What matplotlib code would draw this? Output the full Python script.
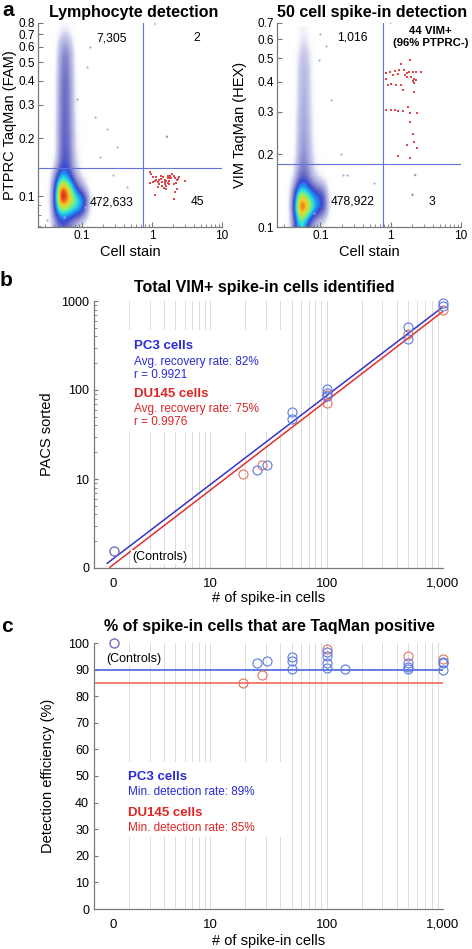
from __future__ import annotations

import matplotlib

matplotlib.use("Agg")
import matplotlib.pyplot as plt
import numpy as np
from matplotlib.colors import LinearSegmentedColormap
from matplotlib.patches import Rectangle
from matplotlib.ticker import NullFormatter

W_PX, H_PX = 472, 949

# ---------------------------------------------------------------- panel a
FLOW_XLIM = (0.0238, 10.0)
FLOW_XTICKS = [0.1, 1, 10]
FLOW_XTICK_LABELS = ["0.1", "1", "10"]
FLOW_XMINOR = [0.03, 0.04, 0.05, 0.06, 0.07, 0.08, 0.09,
               0.2, 0.3, 0.4, 0.5, 0.6, 0.7, 0.8, 0.9,
               2, 3, 4, 5, 6, 7, 8, 9]

LEFT_YLIM = (0.069, 0.80)
LEFT_YTICKS = [0.1, 0.2, 0.3, 0.4, 0.5, 0.6, 0.7, 0.8]
LEFT_YTICK_LABELS = ["0.1", "0.2", "0.3", "0.4", "0.5", "0.6", "0.7", "0.8"]
LEFT_YMINOR = [0.07, 0.08, 0.09]
RIGHT_YLIM = (0.1, 0.70)
RIGHT_YTICKS = [0.1, 0.2, 0.3, 0.4, 0.5, 0.6, 0.7]
RIGHT_YTICK_LABELS = ["0.1", "0.2", "0.3", "0.4", "0.5", "0.6", "0.7"]

LEFT_GATE = (0.74, 0.14)
RIGHT_GATE = (0.776, 0.182)

# density of the main population, levels 0-9 on a grid in log10 units
GRID_LX = [-1.52, -1.45, -1.38, -1.31, -1.24, -1.17, -1.10, -1.03, -0.96, -0.89]
LEFT_GRID_LY = [-0.12, -0.18, -0.24, -0.30, -0.36, -0.42, -0.48, -0.54, -0.60,
                -0.66, -0.72, -0.78, -0.84, -0.90, -0.96, -1.02, -1.08, -1.14]
LEFT_GRID = [
    [0, 0, 0, 0.3, 0.5, 0.2, 0, 0, 0, 0],
    [0, 0, 0.1, 1.0, 1.6, 0.9, 0.1, 0, 0, 0],
    [0, 0, 0.2, 1.9, 2.7, 1.7, 0.3, 0, 0, 0],
    [0, 0, 0.2, 2.2, 3.1, 2.0, 0.3, 0, 0, 0],
    [0, 0, 0.3, 2.4, 3.3, 2.1, 0.4, 0, 0, 0],
    [0, 0, 0.3, 2.5, 3.4, 2.2, 0.4, 0.1, 0, 0],
    [0, 0, 0.3, 2.6, 3.5, 2.3, 0.4, 0.1, 0, 0],
    [0, 0, 0.3, 2.7, 3.5, 2.3, 0.5, 0.1, 0, 0],
    [0, 0, 0.4, 2.7, 3.6, 2.4, 0.5, 0.1, 0, 0],
    [0, 0, 0.4, 2.8, 3.6, 2.5, 0.6, 0.2, 0, 0],
    [0, 0, 0.4, 2.8, 3.7, 2.6, 0.7, 0.2, 0.1, 0],
    [0, 0, 0.5, 2.9, 3.8, 2.7, 0.8, 0.3, 0.1, 0],
    [0, 0.1, 0.9, 3.3, 4.0, 3.0, 1.1, 0.4, 0.1, 0],
    [0, 0.4, 2.8, 5.5, 5.5, 4.0, 2.0, 0.8, 0.3, 0],
    [0, 0.6, 4.8, 9.0, 8.8, 7.2, 4.5, 2.8, 1.2, 0.1],
    [0, 0.8, 5.2, 9.5, 9.3, 8.2, 7.0, 6.0, 4.5, 0.5],
    [0, 0.6, 4.2, 6.5, 6.5, 6.0, 5.3, 4.8, 2.8, 0.3],
    [0, 0.4, 2.0, 3.5, 3.4, 2.4, 1.6, 0.8, 0.2, 0],
]
RIGHT_GRID_LY = [-0.20, -0.26, -0.32, -0.38, -0.44, -0.50, -0.56,
                 -0.62, -0.68, -0.74, -0.80, -0.86, -0.92, -0.98]
RIGHT_GRID = [
    [0, 0, 0, 0.4, 0.6, 0.2, 0, 0, 0, 0],
    [0, 0, 0, 0.8, 1.2, 0.6, 0.1, 0, 0, 0],
    [0, 0, 0.1, 1.1, 1.7, 0.9, 0.1, 0, 0, 0],
    [0, 0, 0.1, 1.2, 1.8, 1.0, 0.1, 0, 0, 0],
    [0, 0, 0.1, 1.3, 1.9, 1.0, 0.2, 0, 0, 0],
    [0, 0, 0.1, 1.4, 2.0, 1.1, 0.2, 0, 0, 0],
    [0, 0, 0.2, 1.6, 2.2, 1.2, 0.3, 0.1, 0, 0],
    [0, 0, 0.2, 1.7, 2.3, 1.3, 0.3, 0.1, 0, 0],
    [0, 0, 0.3, 1.9, 2.5, 1.5, 0.4, 0.1, 0, 0],
    [0, 0, 0.5, 2.3, 2.9, 1.8, 0.6, 0.2, 0.1, 0],
    [0, 0.1, 1.0, 3.0, 3.5, 2.4, 1.1, 0.5, 0.2, 0],
    [0, 0.4, 3.5, 7.0, 6.8, 5.5, 4.5, 4.0, 3.0, 0.2],
    [0, 0.5, 5.0, 9.6, 9.6, 8.5, 6.5, 5.2, 4.0, 0.4],
    [0, 0.3, 3.0, 6.0, 5.5, 3.0, 1.5, 0.8, 0.3, 0],
]

# sparse events outside the main population
LEFT_SPARSE_X = [0.228, 0.283, 0.183, 0.316, 0.118, 0.155, 0.112, 0.055, 0.032, 0.085, 0.44, 0.13, 0.21]
LEFT_SPARSE_Y = [0.225, 0.129, 0.160, 0.181, 0.47, 0.259, 0.088, 0.078, 0.075, 0.32, 0.112, 0.60, 0.095]
RIGHT_SPARSE_X = [0.24, 0.58, 0.095, 0.139, 0.193, 0.416, 0.080, 0.10, 0.21, 0.12]
RIGHT_SPARSE_Y = [0.164, 0.152, 0.49, 0.337, 0.20, 0.134, 0.114, 0.63, 0.165, 0.56]
LEFT_ODD_X = [1.11, 1.64]
LEFT_ODD_Y = [0.79, 0.204]
RIGHT_ODD_X = [1.0, 2.23, 2.04]
RIGHT_ODD_Y = [0.70, 0.164, 0.136]

# stained spike-in events
LEFT_SPIKE_X = [0.95, 0.98, 1.04, 1.10, 1.15, 1.21, 1.27, 1.33, 1.39, 1.46, 1.53, 1.60,
                1.68, 1.75, 1.84, 1.90, 1.95, 2.05, 2.16, 2.25, 2.37, 2.95, 1.53, 1.61,
                1.68, 1.76, 0.95, 1.27, 1.39, 2.05, 2.25, 2.16, 1.10, 2.05, 1.50, 1.60,
                1.21, 1.04, 1.33, 1.78, 2.22, 2.45, 1.15, 1.68, 1.52]
LEFT_SPIKE_Y = [0.133, 0.130, 0.126, 0.120, 0.122, 0.119, 0.121, 0.123, 0.119, 0.126, 0.122, 0.120,
                0.127, 0.124, 0.128, 0.125, 0.131, 0.127, 0.124, 0.121, 0.123, 0.120, 0.115, 0.113,
                0.117, 0.120, 0.117, 0.115, 0.113, 0.115, 0.109, 0.105, 0.101, 0.097, 0.110, 0.109,
                0.112, 0.118, 0.128, 0.116, 0.117, 0.126, 0.126, 0.124, 0.119]
RIGHT_SPIKE_X = [1.89, 1.39, 0.97, 1.14, 1.32, 1.52, 1.69, 1.83, 2.04, 2.28, 2.68, 0.85,
                 1.25, 1.58, 1.93, 2.15, 2.28, 2.04, 0.87, 1.02, 1.18, 1.39, 2.15, 1.47,
                 2.11, 0.85, 1.00, 1.14, 1.27, 1.47, 1.77, 1.89, 2.35, 1.89, 2.04, 2.15,
                 1.69, 2.35, 1.25, 1.89, 1.50, 0.92, 1.73, 1.06]
RIGHT_SPIKE_Y = [0.493, 0.473, 0.438, 0.441, 0.448, 0.445, 0.434, 0.438, 0.438, 0.438, 0.438, 0.434,
                 0.430, 0.425, 0.420, 0.411, 0.407, 0.401, 0.411, 0.391, 0.388, 0.386, 0.394, 0.370,
                 0.364, 0.306, 0.306, 0.306, 0.301, 0.301, 0.314, 0.296, 0.296, 0.273, 0.242, 0.224,
                 0.219, 0.212, 0.196, 0.193, 0.368, 0.388, 0.418, 0.428]

# ------------------------------------------------------------ panels b, c
SPIKE_XTICKS = [1.45, 10, 100, 1000]
SPIKE_XTICK_LABELS = ["0", "10", "100", "1,000"]
SPIKE_GRID_X = [2, 3, 4, 5, 6, 7, 8, 9, 10, 20, 30, 40, 50, 60, 70, 80, 90,
                100, 200, 300, 400, 500, 600, 700, 800, 900, 1000]

SORTED_YTICKS = [1, 10, 100, 1000]
SORTED_YTICK_LABELS = ["0", "10", "100", "1000"]
SORTED_YMINOR = [2, 3, 4, 5, 6, 7, 8, 9, 20, 30, 40, 50, 60, 70, 80, 90,
                 200, 300, 400, 500, 600, 700, 800, 900]

B_PC3_X = [1.5, 25, 31, 50, 50, 100, 100, 100, 500, 500, 1000, 1000]
B_PC3_Y = [1.55, 12.5, 14.5, 57, 47, 102, 93, 85, 510, 370, 940, 870]
B_DU145_X = [1.5, 19, 28, 100, 100, 500, 1000]
B_DU145_Y = [1.55, 11.5, 14.5, 88, 72, 430, 790]
FIT_X = [1.3, 1000]
PC3_FIT_Y = [1.13, 860]
DU145_FIT_X = [1.37, 1000]
DU145_FIT_Y = [1.02, 765]

EFF_YTICKS = [0, 10, 20, 30, 40, 50, 60, 70, 80, 90, 100]
C_PC3_X = [1.5, 25, 31, 50, 50, 50, 100, 100, 100, 100, 145, 500, 500, 500, 1000, 1000, 1000]
C_PC3_Y = [100, 92.6, 93.3, 94.8, 93.3, 90.1, 96.5, 95.0, 92.5, 90.5, 90.3, 92.6, 91.1, 90.1, 92.9, 92.3, 89.8]
C_DU145_X = [1.5, 19, 28, 100, 500, 1000]
C_DU145_Y = [100, 85.1, 88.0, 97.7, 95.1, 93.8]
PC3_MIN_RATE = 89.7
DU145_MIN_RATE = 85.0

# ---------------------------------------------------------------- styles
SPINE = "#7a7a7a"
GATE = "#6274da"
SPIKE_RED = "#e04646"
SPARSE = "#a9a9d9"
ODD_COLORS = ["#d8d088", "#9aa884", "#8c9a7c"]
GRID_COLOR = "#dcdcdc"
PC3_TEXT = "#2a2ad6"
DU145_TEXT = "#e02424"
PC3_CIRCLE = "#5a78e6"
DU145_CIRCLE = "#e8705e"

DENSITY_CMAP = LinearSegmentedColormap.from_list(
    "flow",
    [
        (0.000, (1.0, 1.0, 1.0, 0.0)),
        (0.111, "#d2d2ee"),
        (0.222, "#a6a6dc"),
        (0.333, "#7474c6"),
        (0.444, "#3848d4"),
        (0.556, "#1c92f0"),
        (0.667, "#2ee0dc"),
        (0.778, "#98f05c"),
        (0.889, "#f8c824"),
        (1.000, "#e42c1c"),
    ],
)


def rect_px(left: float, top: float, right: float, bottom: float) -> list[float]:
    return [left / W_PX, 1 - bottom / H_PX, (right - left) / W_PX, (bottom - top) / H_PX]


def fx(px: float) -> float:
    return px / W_PX


def fy(px: float) -> float:
    return 1 - px / H_PX


def style_spines(ax: plt.Axes) -> None:
    for side in ("top", "right"):
        ax.spines[side].set_visible(False)
    for side in ("left", "bottom"):
        ax.spines[side].set_color(SPINE)
        ax.spines[side].set_linewidth(0.9)


def draw_density(ax: plt.Axes, grid, grid_ly, ylim) -> None:
    axd = ax.inset_axes([0, 0, 1, 1], zorder=0.8)
    hx = (GRID_LX[1] - GRID_LX[0]) / 2
    hy = (grid_ly[0] - grid_ly[1]) / 2
    axd.imshow(
        np.array(grid, dtype=float),
        extent=(GRID_LX[0] - hx, GRID_LX[-1] + hx, grid_ly[-1] - hy, grid_ly[0] + hy),
        origin="upper",
        aspect="auto",
        cmap=DENSITY_CMAP,
        vmin=0,
        vmax=9,
        interpolation="bicubic",
        interpolation_stage="data",
    )
    axd.set_xlim(*np.log10(FLOW_XLIM))
    axd.set_ylim(*np.log10(ylim))
    axd.set_axis_off()


def plot_flow_panel(ax, grid, grid_ly, ylim, yticks, ytick_labels, yminor, gate,
                    sparse_x, sparse_y, odd_x, odd_y, spike_x, spike_y, ylabel, label_x) -> None:
    ax.set_xscale("log")
    ax.set_yscale("log")
    draw_density(ax, grid, grid_ly, ylim)
    ax.scatter(sparse_x, sparse_y, s=2.5, color=SPARSE, linewidths=0, zorder=1.5)
    ax.scatter(odd_x, odd_y, s=3, color=ODD_COLORS[: len(odd_x)], linewidths=0, zorder=1.5)
    ax.axvline(gate[0], color=GATE, lw=0.8, zorder=2)
    ax.axhline(gate[1], color=GATE, lw=0.8, zorder=2)
    ax.scatter(spike_x, spike_y, s=3.2, marker="s", color=SPIKE_RED, linewidths=0, zorder=3)

    ax.set_xlim(*FLOW_XLIM)
    ax.set_ylim(*ylim)
    ax.set_xticks(FLOW_XTICKS)
    ax.set_xticklabels(FLOW_XTICK_LABELS)
    ax.set_xticks(FLOW_XMINOR, minor=True)
    ax.set_yticks(yticks)
    ax.set_yticklabels(ytick_labels)
    ax.set_yticks(yminor, minor=True)
    ax.xaxis.set_minor_formatter(NullFormatter())
    ax.yaxis.set_minor_formatter(NullFormatter())
    style_spines(ax)
    ax.tick_params(which="both", direction="in", colors=SPINE, labelcolor="black", labelsize=8.5)
    ax.tick_params(which="major", length=3.5, pad=2)
    ax.tick_params(which="minor", length=2)
    ax.set_xlabel("Cell stain", fontsize=10.5)
    ax.xaxis.set_label_coords(0.5, -0.088)
    ax.set_ylabel(ylabel, fontsize=10.5)
    ax.yaxis.set_label_coords(label_x, 0.5)


def style_spike_axis(ax: plt.Axes) -> None:
    ax.set_xscale("log")
    ax.set_xlim(1, 1000)
    ax.set_xticks(SPIKE_XTICKS)
    ax.set_xticklabels(SPIKE_XTICK_LABELS)
    ax.set_xticks(SPIKE_GRID_X, minor=True)
    ax.xaxis.set_minor_formatter(NullFormatter())
    ax.xaxis.remove_overlapping_locs = False
    ax.grid(which="minor", axis="x", color=GRID_COLOR, lw=0.7)
    ax.tick_params(axis="x", which="both", length=0, labelsize=9.5, pad=7)
    ax.tick_params(axis="y", which="both", direction="in", colors=SPINE, labelcolor="black", labelsize=9)
    ax.tick_params(axis="y", which="major", length=3)
    ax.tick_params(axis="y", which="minor", length=2)
    style_spines(ax)
    ax.set_xlabel("# of spike-in cells", fontsize=10.5)


def legend_block(ax, box, x, rows) -> None:
    ax.add_patch(Rectangle((box[0], box[1]), box[2], box[3], transform=ax.transAxes,
                           facecolor="white", edgecolor="none", zorder=1.6))
    for y, text, color, bold in rows:
        ax.text(x, y, text, transform=ax.transAxes, color=color, ha="left", va="center",
                fontsize=9.5 if bold else 8.5, fontweight="bold" if bold else "normal", zorder=3)


def plot_sorted_panel(ax: plt.Axes) -> None:
    style_spike_axis(ax)
    ax.set_yscale("log")
    ax.set_ylim(1, 1000)
    ax.set_yticks(SORTED_YTICKS)
    ax.set_yticklabels(SORTED_YTICK_LABELS)
    ax.set_yticks(SORTED_YMINOR, minor=True)
    ax.yaxis.set_minor_formatter(NullFormatter())

    ax.plot(FIT_X, PC3_FIT_Y, color="#3434c8", lw=1.1, zorder=2)
    ax.plot(DU145_FIT_X, DU145_FIT_Y, color="#e03030", lw=1.1, zorder=2)
    ax.plot(B_DU145_X, B_DU145_Y, "o", mfc="none", mec=DU145_CIRCLE, ms=6.5, mew=0.8, clip_on=False, zorder=3)
    ax.plot(B_PC3_X, B_PC3_Y, "o", mfc="none", mec=PC3_CIRCLE, ms=6.5, mew=0.8, clip_on=False, zorder=3)

    ax.text(2.12, 1.33, "(Controls)", fontsize=9, ha="left", va="center", zorder=3,
            bbox=dict(facecolor="white", edgecolor="none", pad=0.5))
    legend_block(ax, (0.089, 0.509, 0.458, 0.382), 0.1146, [
        (0.831, "PC3 cells", PC3_TEXT, True),
        (0.772, "Avg. recovery rate: 82%", PC3_TEXT, False),
        (0.723, "r = 0.9921", PC3_TEXT, False),
        (0.652, "DU145 cells", DU145_TEXT, True),
        (0.596, "Avg. recovery rate: 75%", DU145_TEXT, False),
        (0.547, "r = 0.9976", DU145_TEXT, False),
    ])
    ax.set_ylabel("PACS sorted", fontsize=10.5)
    ax.yaxis.set_label_coords(-0.115, 0.5)
    ax.xaxis.set_label_coords(0.5, -0.086)


def plot_efficiency_panel(ax: plt.Axes) -> None:
    style_spike_axis(ax)
    ax.set_ylim(0, 100)
    ax.set_yticks(EFF_YTICKS)

    ax.axhline(PC3_MIN_RATE, color="#4a66dc", lw=1.2, zorder=2)
    ax.axhline(DU145_MIN_RATE, color="#f06858", lw=1.2, zorder=2)
    ax.plot(C_DU145_X, C_DU145_Y, "o", mfc="none", mec=DU145_CIRCLE, ms=6.5, mew=0.8, clip_on=False, zorder=3)
    ax.plot(C_PC3_X, C_PC3_Y, "o", mfc="none", mec=PC3_CIRCLE, ms=6.5, mew=0.8, clip_on=False, zorder=3)

    ax.text(1.27, 94.0, "(Controls)", fontsize=9, ha="left", va="center", zorder=3,
            bbox=dict(facecolor="white", edgecolor="none", pad=0.5))
    legend_block(ax, (0.0745, 0.271, 0.4725, 0.282), 0.0974, [
        (0.496, "PC3 cells", PC3_TEXT, True),
        (0.440, "Min. detection rate: 89%", PC3_TEXT, False),
        (0.361, "DU145 cells", DU145_TEXT, True),
        (0.305, "Min. detection rate: 85%", DU145_TEXT, False),
    ])
    ax.set_ylabel("Detection efficiency (%)", fontsize=10.5)
    ax.yaxis.set_label_coords(-0.112, 0.5)
    ax.xaxis.set_label_coords(0.5, -0.094)


def main() -> None:
    plt.rcParams["font.family"] = ["Liberation Sans", "DejaVu Sans"]
    fig = plt.figure(figsize=(W_PX / 100, H_PX / 100), dpi=100)

    ax_left = fig.add_axes(rect_px(38, 23, 222, 227))
    plot_flow_panel(ax_left, LEFT_GRID, LEFT_GRID_LY, LEFT_YLIM, LEFT_YTICKS, LEFT_YTICK_LABELS,
                    LEFT_YMINOR, LEFT_GATE, LEFT_SPARSE_X, LEFT_SPARSE_Y, LEFT_ODD_X, LEFT_ODD_Y,
                    LEFT_SPIKE_X, LEFT_SPIKE_Y, "PTPRC TaqMan (FAM)", -0.114)
    ax_left.text(0.271, 0.668, "7,305", fontsize=8.7, ha="center", va="center", zorder=4)
    ax_left.text(4.43, 0.668, "2", fontsize=8.7, ha="center", va="center", zorder=4)
    ax_left.text(0.270, 0.093, "472,633", fontsize=8.7, ha="center", va="center", zorder=4)
    ax_left.text(4.43, 0.093, "45", fontsize=8.7, ha="center", va="center", zorder=4)

    ax_right = fig.add_axes(rect_px(276.7, 23, 461, 227))
    plot_flow_panel(ax_right, RIGHT_GRID, RIGHT_GRID_LY, RIGHT_YLIM, RIGHT_YTICKS, RIGHT_YTICK_LABELS,
                    [], RIGHT_GATE, RIGHT_SPARSE_X, RIGHT_SPARSE_Y, RIGHT_ODD_X, RIGHT_ODD_Y,
                    RIGHT_SPIKE_X, RIGHT_SPIKE_Y, "VIM TaqMan (HEX)", -0.161)
    ax_right.text(0.284, 0.607, "1,016", fontsize=8.7, ha="center", va="center", zorder=4)
    ax_right.text(3.7, 0.613, "44 VIM+\n(96% PTPRC-)", fontsize=8.2, fontweight="bold",
                  ha="center", va="center", linespacing=1.15, zorder=4)
    ax_right.text(0.284, 0.127, "478,922", fontsize=8.7, ha="center", va="center", zorder=4)
    ax_right.text(3.8, 0.127, "3", fontsize=8.7, ha="center", va="center", zorder=4)

    ax_b = fig.add_axes(rect_px(94, 301, 443, 568))
    plot_sorted_panel(ax_b)
    ax_c = fig.add_axes(rect_px(94, 643, 443, 909))
    plot_efficiency_panel(ax_c)

    title_kw = dict(fontsize=11.5, fontweight="bold", ha="center", va="center")
    fig.text(fx(134), fy(12), "Lymphocyte detection", **title_kw)
    fig.text(fx(372), fy(12), "50 cell spike-in detection", **title_kw)
    fig.text(fx(264), fy(287), "Total VIM+ spike-in cells identified", **title_kw)
    fig.text(fx(269), fy(626), "% of spike-in cells that are TaqMan positive", **title_kw)
    letter_kw = dict(fontsize=15, fontweight="bold", ha="left", va="center")
    fig.text(fx(2), fy(11), "a", **letter_kw)
    fig.text(fx(0), fy(281), "b", **letter_kw)
    fig.text(fx(1), fy(626), "c", **letter_kw)

    fig.savefig("out.png", dpi=100, facecolor="white")
    plt.close(fig)


if __name__ == "__main__":
    main()
